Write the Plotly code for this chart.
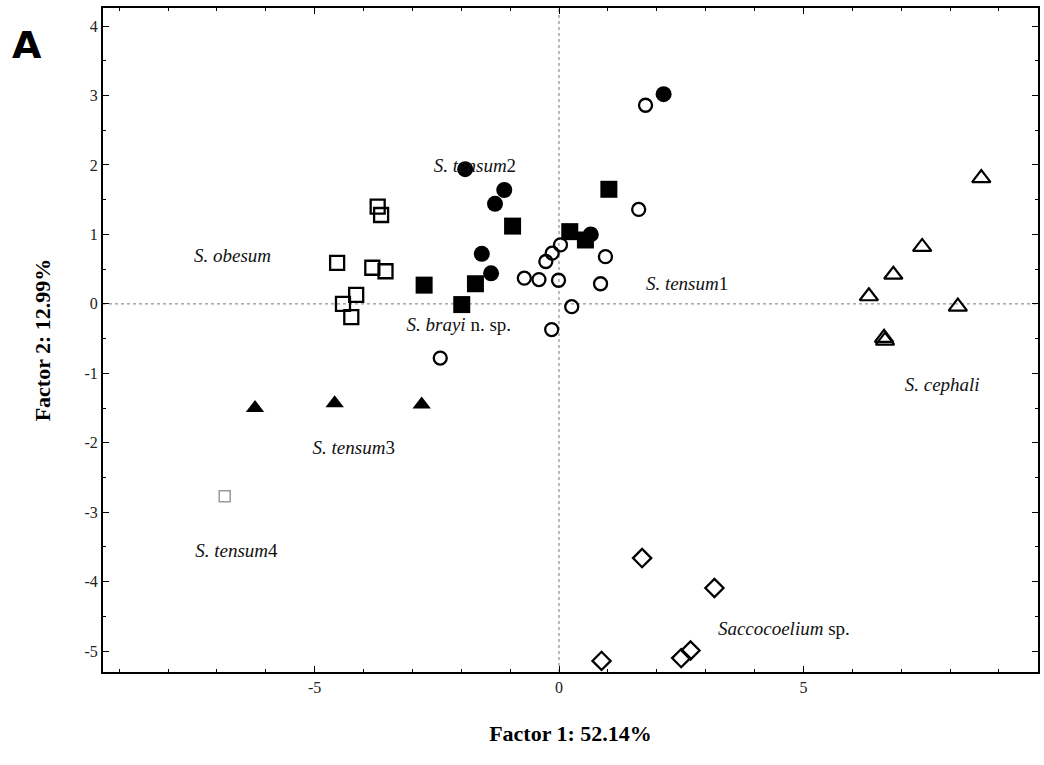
import plotly.graph_objects as go

# Factor scores per group (Factor 1, Factor 2)
tensum1_x = [1.77, 1.63, 0.95, 0.03, -0.14, -0.27, -0.71, -0.41, -0.01, 0.85, 0.26, -0.15, -2.43]
tensum1_y = [2.86, 1.36, 0.68, 0.85, 0.73, 0.61, 0.37, 0.35, 0.34, 0.29, -0.04, -0.37, -0.78]

tensum2_x = [2.14, -1.92, -1.12, -1.31, 0.65, -1.58, -1.39]
tensum2_y = [3.02, 1.94, 1.64, 1.44, 1.00, 0.72, 0.44]

brayi_x = [1.02, -0.95, 0.22, 0.54, -1.71, -2.76, -1.99]
brayi_y = [1.65, 1.12, 1.04, 0.92, 0.29, 0.27, -0.01]

obesum_x = [-3.71, -3.64, -4.54, -3.82, -3.55, -4.15, -4.42, -4.25]
obesum_y = [1.40, 1.28, 0.59, 0.52, 0.47, 0.13, 0.00, -0.19]

tensum3_x = [-6.22, -4.59, -2.81]
tensum3_y = [-1.50, -1.43, -1.45]

tensum4_x = [-6.84]
tensum4_y = [-2.77]

cephali_x = [8.64, 7.43, 6.84, 6.34, 8.16, 6.65, 6.67]
cephali_y = [1.81, 0.82, 0.42, 0.11, -0.04, -0.49, -0.53]

sacco_x = [1.70, 3.18, 0.87, 2.50, 2.69]
sacco_y = [-3.66, -4.09, -5.14, -5.10, -4.99]

# Group labels: text and anchor position in factor space
label_texts = ["<i>S. tensum</i>2", "<i>S. obesum</i>", "<i>S. tensum</i>1",
               "<i>S. brayi</i> n. sp.", "<i>S. cephali</i>", "<i>S. tensum</i>3",
               "<i>S. tensum</i>4", "<i>Saccocoelium</i> sp."]
label_x = [-1.72, -6.68, 2.62, -2.05, 7.84, -4.2, -6.6, 4.6]
label_y = [1.97, 0.67, 0.27, -0.32, -1.18, -2.1, -3.57, -4.7]

x_ticks = [-5, 0, 5]
y_ticks = [-5, -4, -3, -2, -1, 0, 1, 2, 3, 4]

fig = go.Figure()

def add_group(xs, ys, symbol, size, color="black", lw=2):
    fig.add_trace(go.Scatter(
        x=xs, y=ys, mode="markers", showlegend=False,
        marker=dict(symbol=symbol, size=size, color=color,
                    line=dict(color=color, width=lw)),
    ))

add_group(tensum1_x, tensum1_y, "circle-open", 13, lw=2.3)
add_group(tensum2_x, tensum2_y, "circle", 16, lw=0)
add_group(brayi_x, brayi_y, "square", 17, lw=0)
add_group(obesum_x, obesum_y, "square-open", 14, lw=2.3)
add_group(tensum3_x, tensum3_y, "triangle-up", 16, lw=0)
add_group(tensum4_x, tensum4_y, "square-open", 11, color="#9a9a9a", lw=1.5)
add_group(cephali_x, cephali_y, "triangle-up-open", 16, lw=2.2)
add_group(sacco_x, sacco_y, "diamond-open", 14, lw=2.3)

fig.add_trace(go.Scatter(
    x=label_x, y=label_y, mode="text", text=label_texts, showlegend=False,
    textfont=dict(family="Liberation Serif", size=19, color="#111"),
    textposition="middle center",
))

# dotted reference lines through the origin
fig.add_shape(type="line", xref="x", yref="paper", x0=0, x1=0, y0=0, y1=1,
              line=dict(color="#777", width=1, dash="dot"), layer="below")
fig.add_shape(type="line", xref="paper", yref="y", x0=0, x1=1, y0=0, y1=0,
              line=dict(color="#777", width=1, dash="dot"), layer="below")

axis_common = dict(
    showgrid=False, zeroline=False, showline=True, linecolor="black",
    linewidth=2, mirror="ticks", ticks="inside", ticklen=6, tickcolor="black",
    tickfont=dict(family="Liberation Serif", size=16, color="#222"),
)

fig.update_xaxes(
    range=[-9.33, 9.8], tickvals=x_ticks, ticktext=[str(v) for v in x_ticks],
    minor=dict(dtick=1, ticks="inside", ticklen=3, tickcolor="black"),
    title=dict(text="<b>Factor 1: 52.14%</b>", standoff=30,
               font=dict(family="Liberation Serif", size=22, color="black")),
    **axis_common,
)
fig.update_yaxes(
    range=[-5.3, 4.26], tickvals=y_ticks, ticktext=[str(v) for v in y_ticks],
    minor=dict(dtick=0.5, ticks="inside", ticklen=3, tickcolor="black"),
    title=dict(text="<b>Factor 2: 12.99%</b>", standoff=28,
               font=dict(family="Liberation Serif", size=22, color="black")),
    **axis_common,
)

fig.add_annotation(text="<b>A</b>", xref="paper", yref="paper", x=-0.1, y=0.945,
                   xanchor="left", yanchor="middle", showarrow=False,
                   font=dict(family="DejaVu Sans", size=38, color="black"))

fig.update_layout(
    width=1044, height=765,
    margin=dict(l=103, r=4, t=8, b=93),
    plot_bgcolor="white", paper_bgcolor="white",
)

fig.write_html("out.html")
